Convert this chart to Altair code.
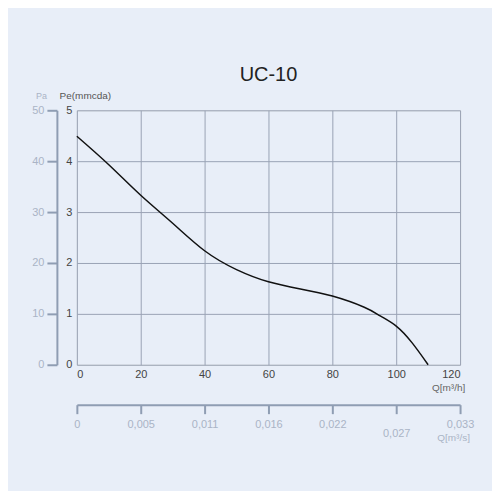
import altair as alt
import pandas as pd

q_m3h = [0, 10, 20, 30, 40, 50, 60, 70, 80, 90, 95, 100, 105, 110]
pe_mmcda = [4.49, 3.93, 3.33, 2.78, 2.24, 1.87, 1.63, 1.49, 1.35, 1.13, 0.96, 0.76, 0.43, 0.0]
q_ticks = [0, 20, 40, 60, 80, 100, 120]
q_m3s_labels = ["0", "0,005", "0,011", "0,016", "0,022", "0,027", "0,033"]
pe_ticks = [0, 1, 2, 3, 4, 5]

df = pd.DataFrame({"Q": q_m3h, "Pe": pe_mmcda})

label_map = "{" + ",".join(f"'{t}':'{l}'" for t, l in zip(q_ticks, q_m3s_labels)) + "}"

xscale = alt.Scale(domain=[0, 120], nice=False)
yscale = alt.Scale(domain=[0, 5], nice=False)

BG = "#e8eef8"
SEC = "#8f9db3"
SECLAB = "#aab4c6"

main = alt.Chart(df).mark_line(color="#111111", strokeWidth=1.5, interpolate="natural").encode(
    x=alt.X("Q:Q", scale=xscale, axis=alt.Axis(
        values=q_ticks, grid=True, gridColor="#9aa3b5", gridWidth=1, ticks=False, domain=False,
        orient="bottom",
        labelColor="#444444", labelFontSize=11, labelPadding=4, labelFont="Liberation Sans",
        title="Q[m³/h]", titleFontSize=10, titleFontWeight="normal", titleColor="#666666",
        titleFont="Liberation Sans", titleX=372, titleY=23, titleAlign="center",
        titleBaseline="middle")),
    y=alt.Y("Pe:Q", scale=yscale, axis=alt.Axis(
        values=pe_ticks, grid=True, gridColor="#9aa3b5", gridWidth=1, ticks=False, domain=False,
        orient="left",
        labelColor="#444444", labelFontSize=11, labelPadding=5, labelFont="Liberation Sans",
        title="Pe(mmcda)", titleAngle=0, titleFontSize=10, titleFontWeight="normal",
        titleColor="#555555", titleFont="Liberation Sans", titleX=8, titleY=-15,
        titleAlign="center", titleBaseline="middle")),
)

second = alt.Chart(df).mark_line(opacity=0, interpolate="natural").encode(
    x=alt.X("Q:Q", scale=xscale, axis=alt.Axis(
        values=q_ticks, grid=False, orient="bottom", offset=40,
        labelExpr=label_map + "[datum.value]",
        domainColor=SEC, domainWidth=2, tickColor=SEC, tickWidth=2, tickSize=9,
        labelColor=SECLAB, labelFontSize=11, labelFont="Liberation Sans",
        labelPadding={"condition": {"test": "datum.value == 100", "value": 14}, "value": 5},
        labelFlush=False, labelOverlap=False,
        title="Q[m³/s]", titleFontSize=10, titleFontWeight="normal", titleColor=SECLAB,
        titleFont="Liberation Sans", titleX=377, titleY=33, titleAlign="center",
        titleBaseline="middle")),
    y=alt.Y("Pe:Q", scale=yscale, axis=alt.Axis(
        values=pe_ticks, grid=False, orient="left", offset=20,
        labelExpr="datum.value * 10",
        domainColor=SEC, domainWidth=2, tickColor=SEC, tickWidth=2, tickSize=10,
        labelColor=SECLAB, labelFontSize=11, labelFont="Liberation Sans", labelPadding=3,
        title="Pa", titleAngle=0, titleFontSize=9, titleFontWeight="normal",
        titleColor=SECLAB, titleFont="Liberation Sans", titleX=-16, titleY=-15,
        titleAlign="center", titleBaseline="middle")),
)

chart = alt.layer(second, main).resolve_axis(x="independent", y="independent").properties(
    width=384, height=255, background=BG,
    title=alt.TitleParams("UC-10", fontSize=20, font="Liberation Sans", fontWeight="normal",
                          color="#222222", offset=5),
    padding={"left": 23, "top": 57, "right": 18, "bottom": 48},
).configure_view(stroke="#6b6f78", strokeWidth=1).configure(autosize=alt.AutoSizeParams(type="pad"))

chart.save("out.html", embed_options={"renderer": "svg", "actions": False})
